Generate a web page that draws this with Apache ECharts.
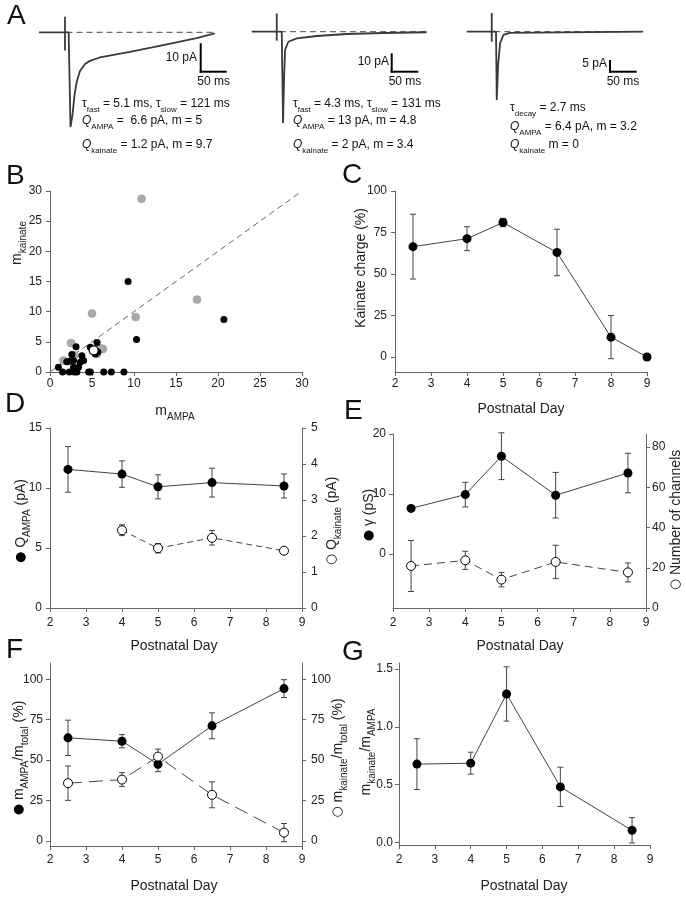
<!DOCTYPE html>
<html>
<head>
<meta charset="utf-8">
<script src="https://cdn.jsdelivr.net/npm/echarts@6/dist/echarts.min.js"></script>
<style>
  html, body { margin: 0; padding: 0; background: #fff; }
  #chart { width: 686px; height: 900px; }
</style>
</head>
<body>
<div id="chart"></div>
<script>
var FONT = '"Liberation Sans", Arial, sans-serif';

// A: example currents, time (ms) vs current (pA)
var trace1T = [-50, 0, 0, 0, 0, 7, 10.6, 14.4, 18.3, 22.5, 28.8, 38.5, 48, 67, 125, 189, 253, 288];
var trace1I = [0, 0, 5.5, -6.4, 0, 0, -33.5, -29.2, -22.2, -17.5, -13.7, -11.2, -10.1, -8.9, -6.9, -4.5, -2.1, -0.4];
var trace2T = [-47, 0, 0, 0, 0, 9.4, 11.8, 13.7, 15.6, 21.8, 37.5, 75, 131, 200, 281];
var trace2I = [0, 0, 10, -5, 0, 0, -49.9, -26.4, -10, -5.5, -3.6, -2.35, -1.26, -0.7, -0.3];
var trace3T = [-47, 0, 0, 0, 0, 8, 9.4, 12, 15.6, 21.8, 34, 284];
var trace3I = [0, 0, 8, -4.3, 0, 0, -29.2, -14, -5, -1.4, -0.5, 0];
var base1T = [3, 288];
var base2T = [6, 281];
var base3T = [5, 284];
var baseI = [0, 0];

// B: m_kainate vs m_AMPA
var bGreyX = [10.9, 17.5, 10.2, 5.0, 2.5, 6.3, 1.6, 5.6, 6.1, 2.9];
var bGreyY = [28.7, 12.0, 9.1, 9.7, 4.8, 3.8, 1.9, 3.0, 3.9, 2.8];
var bBlackX = [9.3, 20.7, 10.3, 3.1, 5.6, 4.8, 5.4, 5.7, 2.6, 3.8, 4.0, 3.6, 2.0, 2.8, 2.3, 1.0, 3.4, 2.8, 1.5, 2.3, 2.9, 3.2, 4.6, 4.8, 6.4, 7.3, 8.8];
var bBlackY = [15.0, 8.7, 5.4, 4.2, 4.9, 4.1, 3.0, 3.3, 2.9, 2.7, 1.9, 1.6, 1.7, 1.9, 1.8, 0.8, 0.8, 0.8, 0, 0, 0, 0, 0, 0, 0, 0, 0];
var bOpenX = [5.2];
var bOpenY = [3.6];
var bUnityX = [0, 30];
var bUnityY = [0, 30];

// C: kainate charge
var cDay = [2.5, 4, 5, 6.5, 8, 9];
var cCharge = [66.5, 71.3, 81, 63, 12, 0];
var cErr = [19.5, 7.2, 2.5, 14, 13, 0];

// D-G: postnatal days
var days = [2.5, 4, 5, 6.5, 8.5];
var dQampa = [11.55, 11.16, 10.1, 10.45, 10.17];
var dQampaErr = [1.9, 1.1, 1.0, 1.2, 1.0];
var dDaysK = [4, 5, 6.5, 8.5];
var dQkain = [2.16, 1.66, 1.95, 1.59];
var dQkainErr = [0.15, 0.13, 0.2, 0];

var eGamma = [7.6, 9.9, 16.3, 9.8, 13.5];
var eGammaErr = [0, 2.05, 3.9, 3.8, 3.3];
var eChan = [20.9, 23.7, 14.1, 22.9, 17.7];
var eChanErr = [12.7, 4.5, 3.6, 8.3, 4.7];

var fAmpa = [63.8, 61.7, 47.5, 71.2, 94.2];
var fAmpaErr = [10.9, 4.1, 4.6, 8, 5.5];
var fKain = [35.8, 38, 52.2, 28.6, 5.3];
var fKainErr = [10.6, 4.3, 4.6, 8, 5.6];

var gRatio = [0.677, 0.685, 1.284, 0.48, 0.104];
var gErr = [0.22, 0.095, 0.235, 0.17, 0.11];

function zip(xs, ys) {
  return xs.map(function (x, i) { return [x, ys[i]]; });
}

function axis(gi, o) {
  var a = {
    type: 'value', gridIndex: gi, min: o.min, max: o.max,
    axisLine: { show: true, onZero: false, lineStyle: { color: '#666', width: 1 } },
    axisTick: { show: true, length: 4, lineStyle: { color: '#666' } },
    splitLine: { show: false },
    axisLabel: { color: '#222', fontSize: 12, fontFamily: FONT, margin: o.margin || 7 }
  };
  if (o.interval) a.interval = o.interval;
  if (o.ticks) {
    a.axisLabel.customValues = o.ticks;
    a.axisTick.customValues = o.ticks;
  }
  if (o.fmt) a.axisLabel.formatter = o.fmt;
  if (o.position) a.position = o.position;
  return a;
}

function hidden(gi, min, max) {
  return { type: 'value', gridIndex: gi, min: min, max: max, show: false, splitLine: { show: false } };
}

function trace(i, ts, is) {
  return {
    type: 'line', xAxisIndex: i, yAxisIndex: i, data: zip(ts, is), showSymbol: false,
    lineStyle: { color: '#3a3a3a', width: 1.8 }, silent: true
  };
}

function baseline(i, ts) {
  return {
    type: 'line', xAxisIndex: i, yAxisIndex: i, data: zip(ts, baseI), showSymbol: false,
    lineStyle: { color: '#444', width: 1, type: [6, 4] }, silent: true, z: 1
  };
}

function dots(xi, yi, xs, ys, open, dash) {
  return {
    type: 'line', xAxisIndex: xi, yAxisIndex: yi, data: zip(xs, ys),
    symbol: 'circle', symbolSize: 9, z: 3,
    itemStyle: open ? { color: '#fff', borderColor: '#000', borderWidth: 1, opacity: 1 } : { color: '#000', opacity: 1 },
    lineStyle: { color: '#444', width: 1, type: dash || 'solid' }
  };
}

function errBars(xi, yi, xs, ys, es) {
  return {
    type: 'custom', xAxisIndex: xi, yAxisIndex: yi, z: 1, silent: true,
    data: xs.map(function (x, i) { return [x, ys[i], es[i]]; }),
    renderItem: function (params, api) {
      var x = api.value(0), y = api.value(1), e = api.value(2);
      if (!e) return null;
      var hi = api.coord([x, y + e]), lo = api.coord([x, y - e]);
      var st = { stroke: '#444', lineWidth: 1 };
      return { type: 'group', children: [
        { type: 'line', shape: { x1: hi[0], y1: hi[1], x2: lo[0], y2: lo[1] }, style: st },
        { type: 'line', shape: { x1: hi[0] - 3, y1: hi[1], x2: hi[0] + 3, y2: hi[1] }, style: st },
        { type: 'line', shape: { x1: lo[0] - 3, y1: lo[1], x2: lo[0] + 3, y2: lo[1] }, style: st }
      ] };
    }
  };
}

function scatter(xs, ys, style, size) {
  style.opacity = 1;
  return {
    type: 'scatter', xAxisIndex: 3, yAxisIndex: 3, data: zip(xs, ys),
    symbolSize: size, itemStyle: style, z: 3
  };
}

// text helpers
var richA = {
  n: { fontSize: 12, lineHeight: 20, verticalAlign: 'middle', fill: '#111', fontFamily: FONT },
  q: { fontSize: 12, lineHeight: 20, verticalAlign: 'middle', fill: '#111', fontStyle: 'italic', fontFamily: FONT },
  s: { fontSize: 8, lineHeight: 10, verticalAlign: 'bottom', fill: '#111', fontFamily: FONT }
};
var richAx = {
  n: { fontSize: 14, lineHeight: 22, verticalAlign: 'middle', fill: '#222', fontFamily: FONT },
  s: { fontSize: 10, lineHeight: 12, verticalAlign: 'bottom', fill: '#222', fontFamily: FONT },
  c: { fontSize: 13, lineHeight: 22, verticalAlign: 'middle', fill: '#000', fontFamily: '"DejaVu Sans", sans-serif' }
};

function txt(x, y, str, rich, align, rot) {
  return {
    type: 'text', x: x, y: y, rotation: rot || 0, silent: true,
    style: {
      text: str, rich: rich, fill: '#222', fontSize: 12, fontFamily: FONT,
      align: align || 'left', textAlign: align || 'left',
      verticalAlign: 'middle', textVerticalAlign: 'middle'
    }
  };
}
function vtxt(x, y, str) { return txt(x, y, str, richAx, 'center', Math.PI / 2); }
function htxt(x, y, str) { return txt(x, y, str, richAx, 'center', 0); }
function letter(x, y, s) {
  return { type: 'text', x: x, y: y, silent: true,
    style: { text: s, fill: '#111', fontSize: 28, fontFamily: FONT, align: 'left', textAlign: 'left', verticalAlign: 'middle', textVerticalAlign: 'middle' } };
}
function bar(x1, y1, x2, y2) {
  return { type: 'line', silent: true, shape: { x1: x1, y1: y1, x2: x2, y2: y2 }, style: { stroke: '#000', lineWidth: 2 } };
}

var graphics = [
  letter(7, 16, 'A'), letter(6, 176, 'B'), letter(342, 175, 'C'), letter(5, 404, 'D'),
  letter(344, 411, 'E'), letter(6, 650, 'F'), letter(342, 652, 'G'),

  // scale bars
  bar(200.7, 43.3, 200.7, 72.7), bar(199.7, 71.7, 226.7, 71.7),
  bar(391.7, 53.3, 391.7, 72.7), bar(390.7, 71.7, 418.3, 71.7),
  bar(610, 60, 610, 72.7), bar(609, 71.7, 636.7, 71.7),
  txt(197, 58, '{n|10 pA}', richA, 'right'), txt(213.7, 82, '{n|50 ms}', richA, 'center'),
  txt(389, 62, '{n|10 pA}', richA, 'right'), txt(405, 82, '{n|50 ms}', richA, 'center'),
  txt(607, 64, '{n|5 pA}', richA, 'right'), txt(623, 82, '{n|50 ms}', richA, 'center'),

  // trace annotations
  txt(82, 104, '{n|τ}{s|fast}{n| = 5.1 ms, τ}{s|slow}{n| = 121 ms}', richA),
  txt(82, 121, '{q|Q}{s|AMPA}{n| =  6.6 pA, m = 5}', richA),
  txt(82, 145, '{q|Q}{s|kainate}{n| = 1.2 pA, m = 9.7}', richA),
  txt(293, 104, '{n|τ}{s|fast}{n| = 4.3 ms, τ}{s|slow}{n| = 131 ms}', richA),
  txt(293, 121, '{q|Q}{s|AMPA}{n| = 13 pA, m = 4.8}', richA),
  txt(293, 145, '{q|Q}{s|kainate}{n| = 2 pA, m = 3.4}', richA),
  txt(510, 108, '{n|τ}{s|decay}{n| = 2.7 ms}', richA),
  txt(510, 127, '{q|Q}{s|AMPA}{n| = 6.4 pA, m = 3.2}', richA),
  txt(510, 145, '{q|Q}{s|kainate}{n| m = 0}', richA),

  // axis titles
  vtxt(17, 243, '{n|m}{s|kainate}'),
  htxt(175, 411, '{n|m}{s|AMPA}'),
  vtxt(361, 268, '{n|Kainate charge (%)}'),
  htxt(521, 409, '{n|Postnatal Day}'),
  vtxt(21, 521, '{c|●}{n| Q}{s|AMPA}{n| (pA)}'),
  vtxt(332, 521, '{c|○}{n| Q}{s|kainate}{n| (pA)}'),
  htxt(174, 646, '{n|Postnatal Day}'),
  vtxt(369, 515, '{c|●}{n| γ (pS)}'),
  vtxt(676, 520, '{c|○}{n| Number of channels}'),
  htxt(520, 646, '{n|Postnatal Day}'),
  vtxt(19, 758, '{c|●}{n| m}{s|AMPA}{n|/m}{s|total}{n| (%)}'),
  vtxt(338, 758, '{c|○}{n| m}{s|kainate}{n|/m}{s|total}{n| (%)}'),
  htxt(174, 886, '{n|Postnatal Day}'),
  vtxt(366, 752, '{n|m}{s|kainate}{n|/m}{s|AMPA}'),
  htxt(524, 886, '{n|Postnatal Day}')
];

var option = {
  animation: false,
  backgroundColor: '#fff',
  textStyle: { fontFamily: FONT },
  grid: [
    { left: 39, top: 4, width: 176.8, height: 127.35 },
    { left: 251.7, top: 13.4, width: 174.8, height: 113.5 },
    { left: 466.7, top: 8.3, width: 176.4, height: 93.6 },
    { left: 50, top: 191, width: 252, height: 181 },
    { left: 395, top: 191, width: 252, height: 181 },
    { left: 50, top: 428, width: 252, height: 180 },
    { left: 393, top: 434, width: 253, height: 174 },
    { left: 50, top: 663, width: 252, height: 183 },
    { left: 399, top: 663, width: 251, height: 182 }
  ],
  xAxis: [
    hidden(0, -50, 290), hidden(1, -47, 281), hidden(2, -47, 284),
    axis(3, { min: 0, max: 30, interval: 5, margin: 6 }),
    axis(4, { min: 2, max: 9, interval: 1, margin: 6 }),
    axis(5, { min: 2, max: 9, interval: 1, margin: 9 }),
    axis(6, { min: 2, max: 9, interval: 1, margin: 9 }),
    axis(7, { min: 2, max: 9, interval: 1, margin: 8 }),
    axis(8, { min: 2, max: 9, interval: 1, margin: 9 })
  ],
  yAxis: [
    hidden(0, -35, 10), hidden(1, -52, 10), hidden(2, -30, 10),
    axis(3, { min: 0, max: 30, interval: 5, margin: 8 }),
    axis(4, { min: -9, max: 100, ticks: [0, 25, 50, 75, 100], margin: 8 }),
    axis(5, { min: 0, max: 15, interval: 5, margin: 8 }),
    axis(5, { min: 0, max: 5, interval: 1, margin: 9, position: 'right' }),
    axis(6, { min: -9, max: 20, ticks: [0, 10, 20], margin: 7 }),
    axis(6, { min: 0, max: 86.5, ticks: [0, 20, 40, 60, 80], margin: 6, position: 'right' }),
    axis(7, { min: -3, max: 110, ticks: [0, 25, 50, 75, 100], margin: 7 }),
    axis(7, { min: -3, max: 110, ticks: [0, 25, 50, 75, 100], margin: 9, position: 'right' }),
    axis(8, { min: -0.023, max: 1.552, ticks: [0, 0.5, 1, 1.5], margin: 6,
      fmt: function (v) { return v.toFixed(1); } })
  ],
  series: [
    baseline(0, base1T), trace(0, trace1T, trace1I),
    baseline(1, base2T), trace(1, trace2T, trace2I),
    baseline(2, base3T), trace(2, trace3T, trace3I),

    { type: 'line', xAxisIndex: 3, yAxisIndex: 3, data: zip(bUnityX, bUnityY), showSymbol: false,
      lineStyle: { color: '#666', width: 1, type: [6, 4] }, silent: true, z: 1 },
    scatter(bGreyX, bGreyY, { color: '#a9a9a9', borderColor: '#999', borderWidth: 0.5 }, 8),
    scatter(bBlackX, bBlackY, { color: '#000' }, 7),
    scatter(bOpenX, bOpenY, { color: '#fff', borderColor: '#000', borderWidth: 1.2 }, 9),

    errBars(4, 4, cDay, cCharge, cErr),
    dots(4, 4, cDay, cCharge, false),

    errBars(5, 5, days, dQampa, dQampaErr),
    dots(5, 5, days, dQampa, false),
    errBars(5, 6, dDaysK, dQkain, dQkainErr),
    dots(5, 6, dDaysK, dQkain, true, [6, 4]),

    errBars(6, 7, days, eGamma, eGammaErr),
    dots(6, 7, days, eGamma, false),
    errBars(6, 8, days, eChan, eChanErr),
    dots(6, 8, days, eChan, true, [8, 5]),

    errBars(7, 9, days, fAmpa, fAmpaErr),
    dots(7, 9, days, fAmpa, false),
    errBars(7, 10, days, fKain, fKainErr),
    dots(7, 10, days, fKain, true, [14, 7]),

    errBars(8, 11, days, gRatio, gErr),
    dots(8, 11, days, gRatio, false)
  ],
  graphic: graphics
};

var chart = echarts.init(document.getElementById('chart'));
chart.setOption(option);
</script>
</body>
</html>
